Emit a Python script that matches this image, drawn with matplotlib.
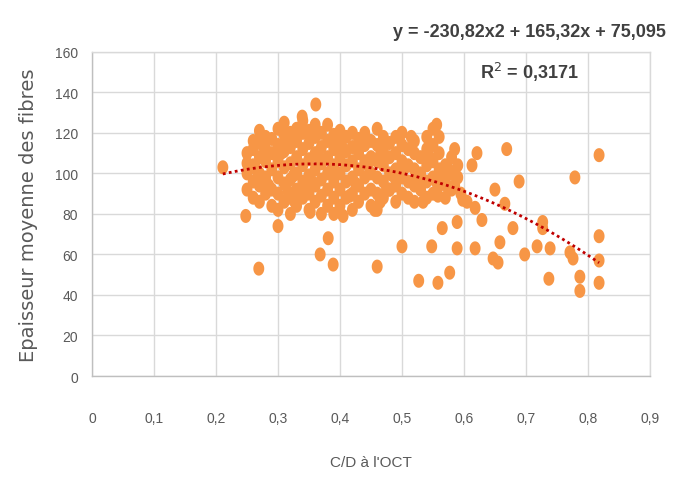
import numpy as np
import matplotlib
matplotlib.use("Agg")
import matplotlib.pyplot as plt
from matplotlib.path import Path

# C/D ratio (x) and mean fibre thickness (y)
cd = (
    [0.211, 0.248, 0.269, 0.30, 0.368, 0.389, 0.381, 0.352, 0.405, 0.46, 0.361, 0.339, 0.456]
    + [0.25] * 4 + [0.26] * 5 + [0.27] * 6 + [0.28] * 5 + [0.29] * 5
    + [0.30] * 6 + [0.31] * 6 + [0.32] * 6 + [0.33] * 6 + [0.34] * 6
    + [0.35] * 6 + [0.36] * 6 + [0.37] * 6 + [0.38] * 6 + [0.39] * 6
    + [0.40] * 6 + [0.41] * 5 + [0.42] * 6 + [0.43] * 5 + [0.44] * 5
    + [0.45] * 5 + [0.46] * 6 + [0.47] * 5 + [0.48] * 4 + [0.49] * 5
    + [0.50] * 5 + [0.51] * 4 + [0.52] * 5 + [0.53] * 3 + [0.54] * 5
    + [0.55] * 5 + [0.56] * 4 + [0.57] * 3 + [0.58] * 3 + [0.59] * 2
    + [0.669, 0.689, 0.727, 0.739, 0.737, 0.718, 0.698, 0.679, 0.658, 0.655,
       0.647, 0.618, 0.629, 0.589, 0.589, 0.577, 0.558, 0.527, 0.548, 0.50,
       0.565, 0.65, 0.666, 0.621, 0.613, 0.605, 0.618]
    + [0.818, 0.779, 0.818, 0.818, 0.818, 0.787, 0.787, 0.771, 0.776, 0.727]
    + [0.465, 0.48, 0.534, 0.558, 0.572, 0.598, 0.316, 0.327, 0.416, 0.585, 0.556]
    + [0.265, 0.285, 0.305, 0.325, 0.345, 0.365, 0.385, 0.405, 0.425, 0.445,
       0.465, 0.485, 0.505, 0.525, 0.545, 0.565, 0.585, 0.275, 0.315, 0.355,
       0.395, 0.435, 0.475, 0.515, 0.555, 0.575, 0.595, 0.535]
)
epaisseur = (
    [103, 79, 53, 74, 60, 55, 68, 81, 79, 54, 134, 128, 82]
    + [92, 100, 105, 110]
    + [88, 96, 104, 112, 116]
    + [86, 94, 100, 108, 116, 121]
    + [90, 98, 106, 112, 118]
    + [84, 92, 102, 110, 117]
    + [82, 90, 98, 106, 114, 122]
    + [86, 95, 103, 111, 119, 125]
    + [80, 88, 97, 105, 113, 120]
    + [84, 92, 100, 108, 116, 122]
    + [88, 96, 104, 112, 120, 126]
    + [82, 90, 99, 107, 115, 121]
    + [86, 94, 102, 110, 118, 124]
    + [80, 89, 97, 105, 113, 120]
    + [84, 92, 100, 108, 116, 124]
    + [80, 88, 96, 104, 112, 119]
    + [84, 92, 100, 108, 115, 121]
    + [88, 96, 104, 111, 118]
    + [82, 90, 98, 106, 113, 120]
    + [86, 94, 102, 110, 117]
    + [90, 98, 106, 114, 120]
    + [84, 92, 100, 108, 116]
    + [82, 90, 98, 106, 114, 122]
    + [88, 96, 104, 112, 118]
    + [92, 100, 108, 115]
    + [86, 94, 102, 110, 118]
    + [90, 98, 106, 114, 120]
    + [88, 96, 104, 112]
    + [86, 94, 102, 110, 116]
    + [92, 100, 108]
    + [88, 96, 104, 112, 118]
    + [90, 98, 106, 114, 122]
    + [94, 102, 110, 118]
    + [88, 96, 104]
    + [92, 100, 108]
    + [98, 104]
    + [112, 96, 76, 63, 48, 64, 60, 73, 66, 56,
       58, 63, 77, 63, 76, 51, 46, 47, 64, 64,
       73, 92, 85, 110, 104, 86, 83]
    + [109, 98, 69, 57, 46, 49, 42, 61, 58, 73]
    + [86, 92, 86, 89, 94, 87, 91, 86, 89, 112, 124]
    + [102, 94, 110, 99, 92, 108, 101, 112, 95, 104,
       109, 99, 103, 98, 108, 100, 94, 114, 116, 96,
       117, 114, 92, 118, 96, 102, 90, 96]
)

# polynomial trendline shown on the chart
coef = [-230.82, 165.32, 75.095]
r2 = 0.3171

x_ticks = [0, 0.1, 0.2, 0.3, 0.4, 0.5, 0.6, 0.7, 0.8, 0.9]
y_ticks = [0, 20, 40, 60, 80, 100, 120, 140, 160]

narrow = ["Liberation Sans Narrow", "Liberation Sans", "DejaVu Sans"]
grey = "#595959"

# slightly tall ellipse marker, like the stretched original
t = np.linspace(0, 2 * np.pi, 40)
ellipse = Path(np.column_stack([0.78 * np.cos(t), np.sin(t)]), closed=True)

fig = plt.figure(figsize=(6.87, 4.89), dpi=100)
ax = fig.add_axes([0.134, 0.229, 0.812, 0.663])

ax.scatter(cd, epaisseur, s=102, marker=ellipse, color="#F79646",
           edgecolors="none", zorder=3)

xf = np.linspace(min(cd), max(cd), 120)
ax.plot(xf, np.polyval(coef, xf), linestyle=(0, (1, 1.2)), color="#C00000",
        linewidth=2, zorder=4)

ax.set_xlim(0, 0.9)
ax.set_ylim(0, 160)
ax.set_xticks(x_ticks)
ax.set_yticks(y_ticks)
ax.set_xticklabels([f"{v:g}".replace(".", ",") for v in x_ticks],
                   family=narrow, fontsize=10, color=grey)
ax.set_yticklabels([str(v) for v in y_ticks], family=narrow, fontsize=10, color=grey)
ax.tick_params(length=0)
ax.tick_params(axis="x", pad=25)
ax.tick_params(axis="y", pad=10)
ax.grid(True, color="#D9D9D9", linewidth=1)
ax.set_axisbelow(True)
for side, sp in ax.spines.items():
    sp.set_color("#D9D9D9" if side in ("top", "right") else "#BFBFBF")
    sp.set_linewidth(1)

ax.set_xlabel("C/D à l'OCT", family=narrow, fontsize=11, color=grey, labelpad=22)
ax.set_ylabel("Epaisseur moyenne des fibres", fontsize=14, color=grey, labelpad=12)

fig.text(0.771, 0.933, "y = -230,82x2 + 165,32x + 75,095", family=narrow,
         fontsize=13, fontweight="bold", color="#404040", ha="center", va="center")
fig.text(0.771, 0.852, "R$^2$ = " + f"{r2}".replace(".", ","),
         family=narrow, fontsize=13, fontweight="bold", color="#404040",
         ha="center", va="center")

fig.savefig("out.png", dpi=100)
